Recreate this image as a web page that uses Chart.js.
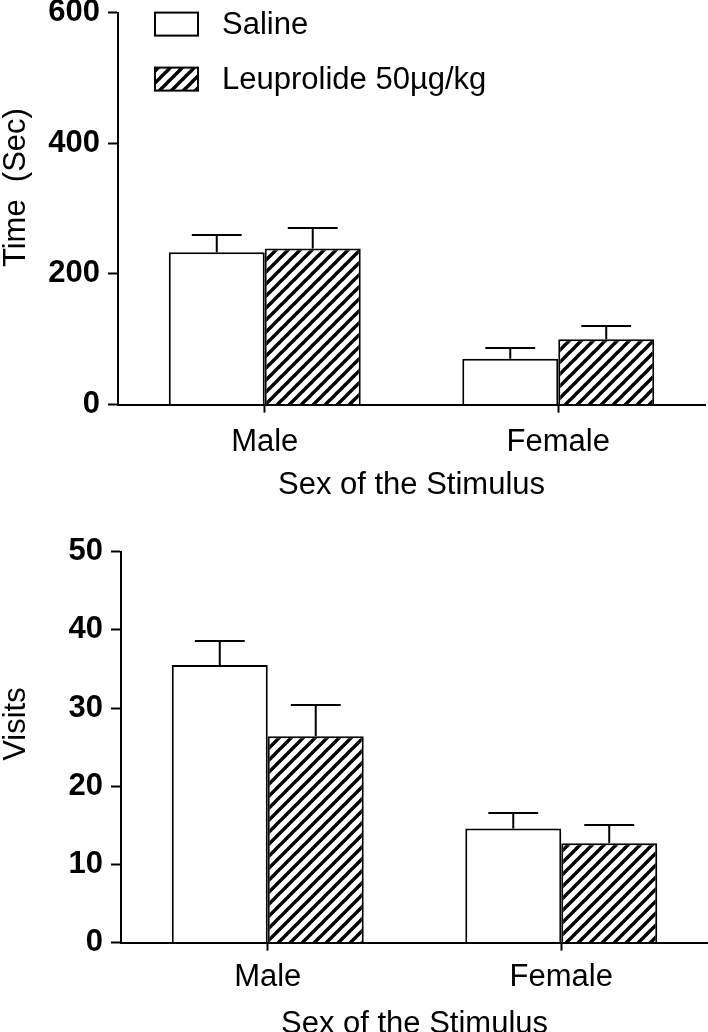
<!DOCTYPE html>
<html>
<head>
<meta charset="utf-8">
<script src="https://cdn.jsdelivr.net/npm/chart.js@4.4.1/dist/chart.umd.min.js"></script>
<style>
html, body { margin: 0; padding: 0; background: #fff; overflow: hidden; width: 708px; height: 1032px; }
canvas { position: absolute; left: 0; }
#timeChart { top: -14px; }
#visitsChart { top: 525px; }
</style>
</head>
<body>
<canvas id="timeChart" width="708" height="522"></canvas>
<canvas id="visitsChart" width="708" height="522"></canvas>
<script>
const categories = ['Male', 'Female'];
const seriesNames = ['Saline', 'Leuprolide 50µg/kg'];

const timeSaline = [233, 70];
const timeSalineSem = [26, 16];
const timeLeup = [239, 100];
const timeLeupSem = [32, 21];

const visitsSaline = [35.5, 14.6];
const visitsSalineSem = [3.1, 2.0];
const visitsLeup = [26.4, 12.7];
const visitsLeupSem = [4.0, 2.4];

const FONT = '"Liberation Sans", Arial, Helvetica, sans-serif';
Chart.defaults.font.family = FONT;
Chart.defaults.color = '#000';

// diagonal hatch fill like the original figure
function makeHatch() {
    const c = document.createElement('canvas');
    c.width = 12; c.height = 12;
    const g = c.getContext('2d');
    g.fillStyle = '#fff';
    g.fillRect(0, 0, 12, 12);
    g.strokeStyle = '#000';
    g.lineWidth = 3.4;
    g.beginPath();
    [[0, 12, 12, 0], [-6, 6, 6, -6], [6, 18, 18, 6]].forEach(l => {
        g.moveTo(l[0], l[1]);
        g.lineTo(l[2], l[3]);
    });
    g.stroke();
    return g.createPattern(c, 'repeat');
}
const hatch = makeHatch();

const errorBars = {
    id: 'errorBars',
    afterDatasetsDraw(chart) {
        const ctx = chart.ctx;
        const y = chart.scales.y;
        ctx.save();
        ctx.strokeStyle = '#000';
        ctx.lineWidth = 2;
        chart.data.datasets.forEach((ds, i) => {
            chart.getDatasetMeta(i).data.forEach((bar, j) => {
                const top = Math.round(y.getPixelForValue(ds.data[j] + ds.sem[j]));
                const half = bar.width * 0.26;
                ctx.beginPath();
                ctx.moveTo(bar.x, bar.y);
                ctx.lineTo(bar.x, top);
                ctx.moveTo(bar.x - half, top);
                ctx.lineTo(bar.x + half, top);
                ctx.stroke();
            });
        });
        ctx.restore();
    }
};

const boxLegend = {
    id: 'boxLegend',
    afterDraw(chart) {
        if (!chart.options.plugins.boxLegend.show) return;
        const ctx = chart.ctx;
        const x0 = chart.chartArea.left + 37;
        ctx.save();
        chart.data.datasets.forEach((ds, i) => {
            const y0 = chart.chartArea.top + i * 55;
            ctx.fillStyle = ds.backgroundColor;
            ctx.fillRect(x0, y0, 43, 23);
            ctx.strokeStyle = '#000';
            ctx.lineWidth = 2;
            ctx.strokeRect(x0, y0, 43, 23);
            ctx.fillStyle = '#000';
            ctx.font = '31px ' + FONT;
            ctx.textBaseline = 'middle';
            ctx.fillText(ds.label, x0 + 67, y0 + 13);
        });
        ctx.restore();
    }
};

// y title drawn by hand so it can sit a little above the axis middle
const yTitle = {
    id: 'yTitle',
    afterDraw(chart, args, opts) {
        const ctx = chart.ctx;
        const a = chart.chartArea;
        ctx.save();
        ctx.translate(16, (a.top + a.bottom) / 2 + opts.shift);
        ctx.rotate(-Math.PI / 2);
        ctx.fillStyle = '#000';
        ctx.font = '31px ' + FONT;
        ctx.textAlign = 'center';
        ctx.textBaseline = 'middle';
        ctx.fillText(opts.text, 0, 0);
        ctx.restore();
    }
};

function makeChart(id, saline, salineSem, leup, leupSem, yMax, step, title, titleShift, axisWidth, showLegend, xPad, tickPad, titlePad) {
    return new Chart(document.getElementById(id), {
        type: 'bar',
        data: {
            labels: categories,
            datasets: [{
                label: seriesNames[0],
                data: saline,
                sem: salineSem,
                backgroundColor: '#fff',
                borderColor: '#000',
                borderWidth: 2
            }, {
                label: seriesNames[1],
                data: leup,
                sem: leupSem,
                backgroundColor: hatch,
                borderColor: '#000',
                borderWidth: 2
            }]
        },
        options: {
            responsive: false,
            animation: false,
            events: [],
            layout: { padding: { top: 0, right: xPad, left: 0, bottom: 0 } },
            datasets: { bar: { barPercentage: 1, categoryPercentage: 0.654 } },
            plugins: {
                legend: { display: false },
                tooltip: { enabled: false },
                boxLegend: { show: showLegend },
                yTitle: { text: title, shift: titleShift }
            },
            scales: {
                x: {
                    offset: true,
                    grid: { offset: false, drawOnChartArea: false, tickLength: 8, tickWidth: 2, tickColor: '#000' },
                    border: { display: true, color: '#000', width: 2 },
                    ticks: { font: { size: 31 }, padding: tickPad },
                    title: { display: true, text: 'Sex of the Stimulus', font: { size: 31 }, padding: { top: titlePad, bottom: 4 } }
                },
                y: {
                    min: 0,
                    max: yMax,
                    ticks: { stepSize: step, font: { size: 31, weight: 'bold' }, padding: 8 },
                    grid: { drawOnChartArea: false, tickLength: 10, tickWidth: 2, tickColor: '#000' },
                    border: { display: true, color: '#000', width: 2 },
                    afterFit(scale) { scale.width = axisWidth; }
                }
            }
        },
        plugins: [errorBars, boxLegend, yTitle]
    });
}

makeChart('timeChart', timeSaline, timeSalineSem, timeLeup, timeLeupSem, 600, 200, 'Time  (Sec)', -21, 118, true, 3, 11, -5);
makeChart('visitsChart', visitsSaline, visitsSalineSem, visitsLeup, visitsLeupSem, 50, 10, 'Visits', -23, 121, false, 0, 8, 2);
</script>
</body>
</html>
